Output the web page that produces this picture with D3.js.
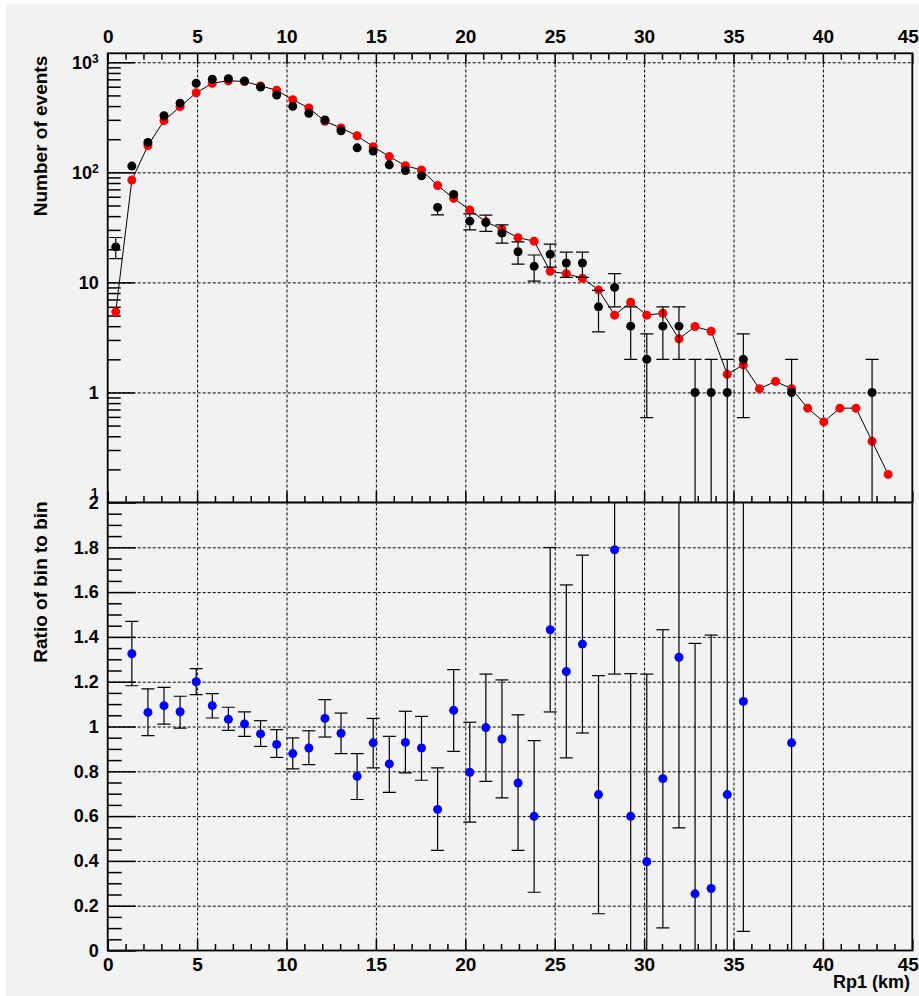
<!DOCTYPE html>
<html>
<head>
<meta charset="utf-8">
<script src="https://cdn.jsdelivr.net/npm/d3@7"></script>
<style>
  body { margin: 0; background: #ffffff; }
  svg { display: block; }
  text { font-family: "Liberation Sans", Arial, Helvetica, sans-serif; font-weight: bold; fill: #000; }
</style>
</head>
<body>
<svg id="chart" width="919" height="996"></svg>
<script>
// Rp1 bin centres (km), 0.9 km wide bins
const binCenters = [0.45, 1.35, 2.25, 3.15, 4.05, 4.95, 5.85, 6.75, 7.65, 8.55,
  9.45, 10.35, 11.25, 12.15, 13.05, 13.95, 14.85, 15.75, 16.65, 17.55,
  18.45, 19.35, 20.25, 21.15, 22.05, 22.95, 23.85, 24.75, 25.65, 26.55,
  27.45, 28.35, 29.25, 30.15, 31.05, 31.95, 32.85, 33.75, 34.65, 35.55,
  36.45, 37.35, 38.25, 39.15, 40.05, 40.95, 41.85, 42.75, 43.65];

// observed events per bin (black)
const dataCounts = [21, 114, 187, 327, 425, 644, 701, 709, 676, 597,
  504, 398, 344, 299, 239, 167, 156, 117, 104, 93,
  48, 63, 36, 35, 28, 19, 14, 18, 15, 15,
  6, 9, 4, 2, 4, 4, 1, 1, 1, 2,
  0, 0, 1, 0, 0, 0, 0, 1, 0];

// statistical error on the observed counts
const dataErrors = [4.58, 10.68, 13.67, 18.08, 20.62, 25.38, 26.48, 26.63, 26.0, 24.43,
  22.45, 19.95, 18.55, 17.29, 15.46, 12.92, 12.49, 10.82, 10.2, 9.64,
  6.93, 7.94, 6.0, 5.92, 5.29, 4.36, 3.74, 4.24, 3.87, 3.87,
  2.45, 3.0, 2.0, 1.41, 2.0, 2.0, 1.0, 1.0, 1.0, 1.41,
  0, 0, 1.0, 0, 0, 0, 0, 1.0, 0];

// simulated events per bin (red)
const simCounts = [5.4, 85, 175, 295, 395, 529, 644, 680, 669, 610,
  557, 457, 385, 291, 253, 215, 171, 139, 115, 105,
  76, 58, 45.5, 35.5, 30.4, 25.5, 23.7, 12.6, 12.0, 10.9,
  8.55, 5.04, 6.6, 5.04, 5.25, 3.07, 3.97, 3.6, 1.46, 1.78,
  1.08, 1.26, 1.08, 0.72, 0.54, 0.72, 0.72, 0.36, 0.18];

// bin-to-bin ratio (blue) with its lower / upper error limits
const ratioCenters = [1.35, 2.25, 3.15, 4.05, 4.95, 5.85, 6.75, 7.65, 8.55, 9.45,
  10.35, 11.25, 12.15, 13.05, 13.95, 14.85, 15.75, 16.65, 17.55, 18.45,
  19.35, 20.25, 21.15, 22.05, 22.95, 23.85, 24.75, 25.65, 26.55, 27.45,
  28.35, 29.25, 30.15, 31.05, 31.95, 32.85, 33.75, 34.65, 35.55, 38.25];
const ratioValues = [1.325, 1.063, 1.093, 1.066, 1.200, 1.093, 1.032, 1.011, 0.967, 0.920,
  0.879, 0.904, 1.036, 0.970, 0.778, 0.927, 0.833, 0.929, 0.904, 0.630,
  1.072, 0.796, 0.995, 0.944, 0.748, 0.599, 1.432, 1.245, 1.368, 0.696,
  1.789, 0.599, 0.396, 0.767, 1.309, 0.253, 0.277, 0.696, 1.112, 0.927];
const ratioLow = [1.182, 0.959, 1.011, 0.993, 1.142, 1.038, 0.983, 0.956, 0.911, 0.862,
  0.811, 0.830, 0.953, 0.879, 0.674, 0.815, 0.706, 0.793, 0.760, 0.447,
  0.889, 0.573, 0.755, 0.681, 0.447, 0.260, 1.065, 0.860, 0.971, 0.164,
  1.234, -0.04, -0.44, 0.101, 0.547, -0.86, -0.85, -0.61, 0.085, -0.93];
const ratioHigh = [1.469, 1.168, 1.175, 1.135, 1.258, 1.147, 1.086, 1.065, 1.026, 0.986,
  0.949, 0.981, 1.120, 1.060, 0.879, 1.036, 0.956, 1.068, 1.045, 0.815,
  1.254, 1.019, 1.234, 1.208, 1.052, 0.937, 1.799, 1.632, 1.765, 1.227,
  2.35, 1.236, 1.234, 1.432, 2.07, 1.371, 1.408, 2.0, 2.14, 2.78];

// axis ticks and labels
const xMajorTicks = [0, 5, 10, 15, 20, 25, 30, 35, 40, 45];
const xGridTicks = [5, 10, 15, 20, 25, 30, 35, 40];
const logMajorTicks = [1, 10, 100, 1000];
const logMinorTicks = [0.2, 0.3, 0.4, 0.5, 0.6, 0.7, 0.8, 0.9,
  2, 3, 4, 5, 6, 7, 8, 9, 20, 30, 40, 50, 60, 70, 80, 90,
  200, 300, 400, 500, 600, 700, 800, 900];
const ratioMajorTicks = [0, 0.2, 0.4, 0.6, 0.8, 1, 1.2, 1.4, 1.6, 1.8, 2];
const ratioGridTicks = [0.2, 0.4, 0.6, 0.8, 1, 1.2, 1.4, 1.6, 1.8];
const logLabels = { 1: ["1", null], 10: ["10", null], 100: ["10", "2"], 1000: ["10", "3"] };

// frame geometry
const X0 = 107.7, X1 = 912.3;
const YT = 53.3, YM = 502.5, YB = 950.5;
const R = 4.5;

const svg = d3.select("#chart");
svg.append("rect").attr("x", 6).attr("y", 4).attr("width", 913).attr("height", 992).attr("fill", "#f2f2f2");

const x = d3.scaleLinear().domain([0, 45]).range([X0, X1]);
const yLog = d3.scaleLog().domain([0.1, 1207]).range([YM, YT]);
const yRat = d3.scaleLinear().domain([0, 2]).range([YB, YM]);

const defs = svg.append("defs");
defs.append("clipPath").attr("id", "clipTop").append("rect")
  .attr("x", X0).attr("y", YT).attr("width", X1 - X0).attr("height", YM - YT);
defs.append("clipPath").attr("id", "clipBot").append("rect")
  .attr("x", X0).attr("y", YM).attr("width", X1 - X0).attr("height", YB - YM);

function styleAxis(g, fontSize) {
  g.select(".domain").remove();
  g.attr("font-family", null).attr("font-size", null);
  g.selectAll("line").attr("stroke", "#000").attr("stroke-width", 1.5);
  g.selectAll("text").style("font-size", fontSize + "px");
  return g;
}
function styleGrid(g) {
  g.select(".domain").remove();
  g.selectAll("text").remove();
  g.selectAll("line").attr("stroke", "#000").attr("stroke-width", 1).attr("stroke-dasharray", "3,2");
  return g;
}
// keep the last x label inside the canvas edge
function pinLastLabel(g) {
  g.selectAll(".tick").filter(d => d === 45).select("text")
    .attr("text-anchor", "end").attr("x", 6);
  return g;
}

// ---- grids ----
styleGrid(svg.append("g").attr("transform", `translate(0,${YM})`)
  .call(d3.axisBottom(x).tickValues(xGridTicks).tickSizeInner(-(YM - YT)).tickSizeOuter(0)));
styleGrid(svg.append("g").attr("transform", `translate(0,${YB})`)
  .call(d3.axisBottom(x).tickValues(xGridTicks).tickSizeInner(-(YB - YM)).tickSizeOuter(0)));
styleGrid(svg.append("g").attr("transform", `translate(${X0},0)`)
  .call(d3.axisLeft(yLog).tickValues(logMajorTicks).tickSizeInner(-(X1 - X0)).tickSizeOuter(0)));
styleGrid(svg.append("g").attr("transform", `translate(${X0},0)`)
  .call(d3.axisLeft(yRat).tickValues(ratioGridTicks).tickSizeInner(-(X1 - X0)).tickSizeOuter(0)));

// ---- x axes ----
const xMinor = d3.range(0, 46).filter(v => v % 5 !== 0);
pinLastLabel(styleAxis(svg.append("g").attr("transform", `translate(0,${YT})`)
  .call(d3.axisTop(x).tickValues(xMajorTicks).tickSizeInner(-11).tickSizeOuter(0).tickPadding(10)
    .tickFormat(d3.format("d"))), 19));
styleAxis(svg.append("g").attr("transform", `translate(0,${YT})`)
  .call(d3.axisTop(x).tickValues(xMinor).tickSizeInner(-6.5).tickSizeOuter(0).tickFormat("")), 19);
styleAxis(svg.append("g").attr("transform", `translate(0,${YM})`)
  .call(d3.axisBottom(x).tickValues(xMajorTicks).tickSizeInner(-11).tickSizeOuter(0).tickFormat("")), 19);
styleAxis(svg.append("g").attr("transform", `translate(0,${YM})`)
  .call(d3.axisBottom(x).tickValues(xMinor).tickSizeInner(-6.5).tickSizeOuter(0).tickFormat("")), 19);
pinLastLabel(styleAxis(svg.append("g").attr("transform", `translate(0,${YB})`)
  .call(d3.axisBottom(x).tickValues(xMajorTicks).tickSizeInner(-11).tickSizeOuter(0).tickPadding(7)
    .tickFormat(d3.format("d"))), 19));
styleAxis(svg.append("g").attr("transform", `translate(0,${YB})`)
  .call(d3.axisBottom(x).tickValues(xMinor).tickSizeInner(-6.5).tickSizeOuter(0).tickFormat("")), 19);

// ---- y axis, event counts (log) ----
const gLog = styleAxis(svg.append("g").attr("transform", `translate(${X0},0)`)
  .call(d3.axisLeft(yLog).tickValues(logMajorTicks).tickSizeInner(-27).tickSizeOuter(0).tickPadding(9)
    .tickFormat(() => "")), 18);
gLog.selectAll("text").each(function (d) {
  const t = d3.select(this);
  const [base, sup] = logLabels[d];
  t.append("tspan").text(base);
  if (sup) t.append("tspan").attr("dy", "-0.5em").style("font-size", "12px").text(sup);
});
styleAxis(svg.append("g").attr("transform", `translate(${X0},0)`)
  .call(d3.axisLeft(yLog).tickValues(logMinorTicks).tickSizeInner(-13).tickSizeOuter(0).tickFormat("")), 18);
// clipped label at the foot of the log axis
svg.append("text").attr("x", 98.5).attr("y", 498).attr("text-anchor", "end")
  .style("font-size", "14px").text("1");

// ---- y axis, ratio ----
const ratioMinor = d3.range(1, 40).filter(k => k % 4 !== 0).map(k => k * 0.05);
styleAxis(svg.append("g").attr("transform", `translate(${X0},0)`)
  .call(d3.axisLeft(yRat).tickValues(ratioMajorTicks).tickSizeInner(-28).tickSizeOuter(0).tickPadding(9)
    .tickFormat(d3.format("~g"))), 18);
styleAxis(svg.append("g").attr("transform", `translate(${X0},0)`)
  .call(d3.axisLeft(yRat).tickValues(ratioMinor).tickSizeInner(-14).tickSizeOuter(0).tickFormat("")), 18);

// ---- frame ----
const frame = svg.append("g").attr("stroke", "#000").attr("stroke-width", 1.8).attr("fill", "none");
frame.append("rect").attr("x", X0).attr("y", YT).attr("width", X1 - X0).attr("height", YB - YT);
frame.append("line").attr("x1", X0).attr("x2", X1).attr("y1", YM).attr("y2", YM);

// ---- upper pad: simulation line + markers, data with errors ----
const padTop = svg.append("g").attr("clip-path", "url(#clipTop)");
const sim = binCenters.map((c, i) => ({ c, v: simCounts[i] }));
padTop.append("path").datum(sim)
  .attr("fill", "none").attr("stroke", "#000").attr("stroke-width", 1)
  .attr("d", d3.line().x(d => x(d.c)).y(d => yLog(d.v)));
padTop.append("g").selectAll("circle").data(sim).join("circle")
  .attr("cx", d => x(d.c)).attr("cy", d => yLog(d.v)).attr("r", R).attr("fill", "#ff0000");

const obs = binCenters.map((c, i) => ({ c, v: dataCounts[i], e: dataErrors[i] })).filter(d => d.v > 0);
const capHalf = 6.5, minBar = R + 2;
const errG = padTop.append("g").attr("stroke", "#000").attr("stroke-width", 1.2);
obs.forEach(d => {
  const cx = x(d.c), cy = yLog(d.v);
  const hi = d.v + d.e, lo = d.v - d.e;
  const yHi = yLog(hi);
  const yLo = lo > 0.1 ? yLog(lo) : YM + 2;
  if (cy - yHi > minBar) {
    errG.append("line").attr("x1", cx).attr("x2", cx).attr("y1", cy - R).attr("y2", yHi);
    errG.append("line").attr("x1", cx - capHalf).attr("x2", cx + capHalf).attr("y1", yHi).attr("y2", yHi);
  }
  if (yLo - cy > minBar) {
    errG.append("line").attr("x1", cx).attr("x2", cx).attr("y1", cy + R).attr("y2", yLo);
    if (lo > 0.1) errG.append("line").attr("x1", cx - capHalf).attr("x2", cx + capHalf).attr("y1", yLo).attr("y2", yLo);
  }
});
padTop.append("g").selectAll("circle").data(obs).join("circle")
  .attr("cx", d => x(d.c)).attr("cy", d => yLog(d.v)).attr("r", R).attr("fill", "#000");

// ---- lower pad: ratio with errors ----
const padBot = svg.append("g").attr("clip-path", "url(#clipBot)");
const rat = ratioCenters.map((c, i) => ({ c, v: ratioValues[i], lo: ratioLow[i], hi: ratioHigh[i] }));
const rErr = padBot.append("g").attr("stroke", "#000").attr("stroke-width", 1.2);
rat.forEach(d => {
  const cx = x(d.c);
  const yHi = d.hi <= 2 ? yRat(d.hi) : YM - 2;
  const yLo = d.lo >= 0 ? yRat(d.lo) : YB + 2;
  rErr.append("line").attr("x1", cx).attr("x2", cx).attr("y1", yHi).attr("y2", yLo);
  if (d.hi <= 2) rErr.append("line").attr("x1", cx - capHalf).attr("x2", cx + capHalf).attr("y1", yHi).attr("y2", yHi);
  if (d.lo >= 0) rErr.append("line").attr("x1", cx - capHalf).attr("x2", cx + capHalf).attr("y1", yLo).attr("y2", yLo);
});
padBot.append("g").selectAll("circle").data(rat).join("circle")
  .attr("cx", d => x(d.c)).attr("cy", d => yRat(d.v)).attr("r", R).attr("fill", "#0000ff");

// ---- axis titles ----
svg.append("text").attr("transform", "translate(47,136) rotate(-90)")
  .attr("text-anchor", "middle").style("font-size", "19px").text("Number of events");
svg.append("text").attr("transform", "translate(47,582) rotate(-90)")
  .attr("text-anchor", "middle").style("font-size", "19px").text("Ratio of bin to bin");
svg.append("text").attr("x", 910).attr("y", 988).attr("text-anchor", "end")
  .style("font-size", "18px").text("Rp1 (km)");
</script>
</body>
</html>
